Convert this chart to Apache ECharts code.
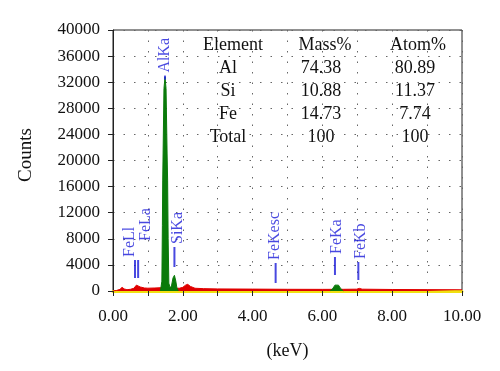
<!DOCTYPE html>
<html>
<head>
<meta charset="utf-8">
<script src="https://cdn.jsdelivr.net/npm/echarts@6/dist/echarts.min.js"></script>
<style>
html,body{margin:0;padding:0;background:#fff;}
#chart{width:500px;height:371px;}
</style>
</head>
<body>
<div id="chart"></div>
<script>
// ---- data ----
var xTickValues = [0, 2, 4, 6, 8, 10];
var yTickValues = [0, 4000, 8000, 12000, 16000, 20000, 24000, 28000, 32000, 36000, 40000];

// background spectrum (red): [keV, counts]
var redSpectrum = [
  [0.00, 0], [0.10, 80], [0.20, 250], [0.26, 560], [0.32, 320], [0.40, 200],
  [0.50, 260], [0.60, 420], [0.67, 900], [0.72, 1080], [0.78, 620], [0.90, 460],
  [1.00, 430], [1.20, 460], [1.35, 500], [1.60, 480], [1.90, 420], [2.00, 560],
  [2.08, 900], [2.14, 1020], [2.22, 700], [2.35, 420], [2.60, 360], [3.00, 320],
  [4.00, 290], [5.00, 260], [6.00, 250], [6.60, 260], [6.98, 280], [7.06, 400],
  [7.14, 280], [8.00, 230], [9.00, 210], [10.00, 190]
];

// identified peaks (green): Al K, Si K, Fe K
var greenAlSi = [
  [1.36, 0], [1.40, 1500], [1.415, 10000], [1.425, 17000], [1.435, 21000],
  [1.46, 31000], [1.49, 32800], [1.52, 31000], [1.55, 21000], [1.565, 17000],
  [1.58, 8000], [1.60, 1200], [1.64, 400], [1.68, 900], [1.72, 2000],
  [1.76, 2400], [1.80, 1500], [1.83, 500], [1.87, 0]
];
var greenFe = [
  [6.22, 0], [6.30, 400], [6.36, 900], [6.41, 1180], [6.46, 900], [6.52, 400], [6.60, 0]
];

// line markers
var lineNames    = ['FeLl', 'FeLa', 'AlKa', 'SiKa', 'FeKesc', 'FeKa', 'FeKb'];
var lineEnergies = [0.63, 0.72, 1.49, 1.76, 4.66, 6.36, 7.03];
var lineBaseCounts = [1990, 1990, 32400, 3680, 1230, 2450, 1690];

// quantification table
var tableHeader = ['Element', 'Mass%', 'Atom%'];
var elements = ['Al', 'Si', 'Fe', 'Total'];
var massPct  = ['74.38', '10.88', '14.73', '100'];
var atomPct  = ['80.89', '11.37', '7.74', '100'];

// ---- chart ----
var FONT = '"Liberation Serif", "Times New Roman", serif';
var chart = echarts.init(document.getElementById('chart'), null, {renderer: 'canvas'});

var markerStyle = {
  lineLen: [18, 18, 4, 20, 20, 18, 18],
  labelLift: [0, 16, 0, 0, 0, 0, 0],
  labelShift: [-5, 8, 0, 3, -1, 2, 2]
};

var markerData = lineNames.map(function (n, i) {
  return {
    name: n,
    value: [lineEnergies[i], lineBaseCounts[i]],
    symbolSize: [2, markerStyle.lineLen[i]],
    symbolOffset: [0, -markerStyle.lineLen[i] / 2],
    label: {offset: [markerStyle.labelLift[i], markerStyle.labelShift[i]]}
  };
});

var graphics = [];
var colX = [[233, 228], [325, 321], [418, 415]];
var rowY = [45, 68, 91, 114, 137];
tableHeader.forEach(function (h, c) {
  graphics.push({type: 'text', x: colX[c][0], y: rowY[0],
    style: {text: h, font: '18px ' + FONT, fill: '#111', textAlign: 'center', textVerticalAlign: 'middle'}});
});
[elements, massPct, atomPct].forEach(function (col, c) {
  col.forEach(function (v, r) {
    graphics.push({type: 'text', x: colX[c][1], y: rowY[r + 1],
      style: {text: v, font: '18px ' + FONT, fill: '#111', textAlign: 'center', textVerticalAlign: 'middle'}});
  });
});
graphics.push({type: 'text', x: 26, y: 155, rotation: Math.PI / 2,
  style: {text: 'Counts', font: '19px ' + FONT, fill: '#111', textAlign: 'center', textVerticalAlign: 'middle'}});

var option = {
  animation: false,
  backgroundColor: '#fff',
  grid: {left: 113, right: 38, top: 30, bottom: 80, show: true, borderColor: '#222', borderWidth: 1, backgroundColor: 'transparent'},
  xAxis: {
    type: 'value', min: 0, max: 10, interval: 1,
    name: '(keV)', nameLocation: 'middle', nameGap: 51,
    nameTextStyle: {fontFamily: FONT, fontSize: 18, color: '#111'},
    axisLine: {show: true, onZero: false, lineStyle: {color: '#f0e010', width: 3}},
    axisTick: {show: true, length: 5, lineStyle: {color: '#222', width: 1}},
    axisLabel: {
      margin: 17, fontFamily: FONT, fontSize: 17, color: '#111',
      formatter: function (v) { return xTickValues.indexOf(v) >= 0 ? v.toFixed(2) : ''; }
    },
    splitLine: {show: true, lineStyle: {color: '#666', type: [1.5, 9], width: 1}}
  },
  yAxis: {
    type: 'value', min: 0, max: 40000, interval: 4000,
    axisLine: {show: true, lineStyle: {color: '#222', width: 1}},
    axisTick: {show: true, length: 5, lineStyle: {color: '#222'}},
    axisLabel: {margin: 13, fontFamily: FONT, fontSize: 17, color: '#111',
      formatter: function (v) { return yTickValues.indexOf(v) >= 0 ? String(v) : ''; }},
    splitLine: {show: true, lineStyle: {color: '#666', type: [1.5, 9], width: 1}}
  },
  series: [
    {type: 'line', data: redSpectrum, symbol: 'none', lineStyle: {color: '#e00000', width: 1},
      areaStyle: {color: '#e00000', opacity: 1}, z: 2},
    {type: 'line', data: greenAlSi, symbol: 'none', lineStyle: {color: '#0a7a0a', width: 1},
      areaStyle: {color: '#0a7a0a', opacity: 1}, z: 3},
    {type: 'line', data: greenFe, symbol: 'none', lineStyle: {color: '#0a7a0a', width: 1},
      areaStyle: {color: '#0a7a0a', opacity: 1}, z: 3},
    {type: 'scatter', data: markerData, symbol: 'rect', itemStyle: {color: '#1a1ad8'}, z: 5,
      label: {show: true, formatter: '{b}', position: 'top', distance: 3, rotate: 90,
        align: 'left', verticalAlign: 'middle', color: '#1a1ad8', fontFamily: FONT, fontSize: 16}}
  ],
  graphic: graphics
};
chart.setOption(option);
</script>
</body>
</html>
